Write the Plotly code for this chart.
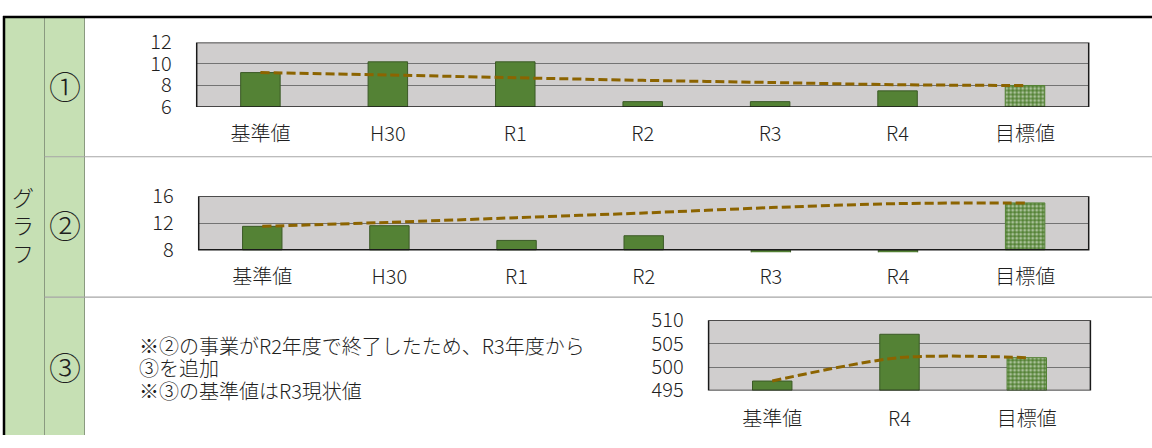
import plotly.graph_objects as go

# ---------------- data ----------------
cats1 = ["基準値", "H30", "R1", "R2", "R3", "R4", "目標値"]
values1 = [9.2, 10.2, 10.2, 6.5, 6.5, 7.5, 8.0]
trend1 = [9.2, 8.98, 8.72, 8.48, 8.28, 8.07, 8.0]
yticks1 = [6, 8, 10, 12]

cats2 = ["基準値", "H30", "R1", "R2", "R3", "R4", "目標値"]
values2 = [11.5, 11.6, 9.4, 10.1, 0, 0, 15.0]
trend2 = [11.5, 12.1, 12.8, 13.5, 14.3, 14.9, 15.0]
yticks2 = [8, 12, 16]

cats3 = ["基準値", "R4", "目標値"]
values3 = [497, 507, 502]
trend3 = [497, 502, 502]
yticks3 = [495, 500, 505, 510]

row_labels = ["①", "②", "③"]
side_label = "グラフ"
note_lines = ["※②の事業がR2年度で終了したため、R3年度から", "③を追加", "※③の基準値はR3現状値"]

# ---------------- style ----------------
W, H = 1152, 448
FONT = "Noto Sans CJK JP"
GREEN = "#548235"
BAR_LINE = "#3B5A26"
TREND = "#8C6400"
PLOT_BG = "#D0CECE"
GRID = "#737373"
TXT = "#1F1F1F"
CELL_GREEN = "#C6E0B4"
CELL_LINE = "#A6A6A6"


def px_x(p):
    return p / W


def px_y(p):
    return 1 - p / H


fig = go.Figure()

charts = [
    dict(cats=cats1, vals=values1, trend=trend1, ticks=yticks1, base=6, rng=[6, 12],
         xd=[196.7, 1088.7], yd=[28.3, 97.3], xs=13),
    dict(cats=cats2, vals=values2, trend=trend2, ticks=yticks2, base=8, rng=[7.62, 16],
         xd=[198.7, 1088.7], yd=[192.7, 252.7], xs=11),
    dict(cats=cats3, vals=values3, trend=trend3, ticks=yticks3, base=495, rng=[495, 510],
         xd=[708.6, 1090.4], yd=[325.3, 400.3], xs=15),
]

shapes = []
layout_axes = {}
for i, c in enumerate(charts, start=1):
    xa = "x" if i == 1 else f"x{i}"
    ya = "y" if i == 1 else f"y{i}"
    n = len(c["cats"])
    patterns = [""] * (n - 1) + ["."]
    colors = [GREEN] * n
    fig.add_trace(go.Bar(
        x=c["cats"], y=[v - c["base"] for v in c["vals"]], base=c["base"],
        xaxis=xa, yaxis=ya, width=0.31,
        marker=dict(color=colors,
                    line=dict(color=[BAR_LINE] * (n - 1) + [GREEN], width=1),
                    pattern=dict(shape=patterns, fgcolor="#FFFFFF", size=4,
                                 solidity=0.45, fillmode="overlay")),
        hoverinfo="skip", showlegend=False,
    ))
    fig.add_trace(go.Scatter(
        x=c["cats"], y=c["trend"], xaxis=xa, yaxis=ya, mode="lines",
        line=dict(color=TREND, width=3, dash="9px,4px", shape="spline", smoothing=0.8),
        hoverinfo="skip", showlegend=False,
    ))
    xkey = "xaxis" if i == 1 else f"xaxis{i}"
    ykey = "yaxis" if i == 1 else f"yaxis{i}"
    layout_axes[xkey] = dict(
        domain=[px_x(c["xd"][0]), px_x(c["xd"][1])], anchor=ya,
        type="category", categoryorder="array", categoryarray=c["cats"],
        showline=False, showgrid=False, zeroline=False, ticks="",
        ticklabelstandoff=c["xs"], tickfont=dict(family=FONT, size=20, color=TXT, weight=300),
        fixedrange=True,
    )
    layout_axes[ykey] = dict(
        domain=[px_y(c["yd"][1]), px_y(c["yd"][0])], anchor=xa,
        range=c["rng"], tickmode="array", tickvals=c["ticks"],
        showline=False, showgrid=True, gridcolor=GRID, gridwidth=1, zeroline=False,
        ticks="", ticklabelstandoff=24,
        tickfont=dict(family=FONT, size=20, color=TXT, weight=300), fixedrange=True,
    )
    # plot area background and frame
    shapes.append(dict(type="rect", xref=f"{xa} domain", yref=ya, x0=0, x1=1,
                       y0=c["ticks"][0], y1=c["ticks"][-1], fillcolor=PLOT_BG,
                       line=dict(width=0), layer="below"))
    shapes.append(dict(type="rect", xref=f"{xa} domain", yref=ya, x0=0, x1=1,
                       y0=c["ticks"][0], y1=c["ticks"][-1], fillcolor="rgba(0,0,0,0)",
                       line=dict(color="#1A1A1A", width=1.5), layer="above"))

# table cells
shapes.append(dict(type="rect", xref="paper", yref="paper", x0=px_x(3), x1=px_x(84.5),
                   y0=0, y1=1, fillcolor=CELL_GREEN, line=dict(width=0), layer="below"))
for xv in [44.5, 84.5]:
    shapes.append(dict(type="line", xref="paper", yref="paper", x0=px_x(xv), x1=px_x(xv),
                       y0=0, y1=px_y(1), line=dict(color="#8A9A80", width=1)))
for yv in [150.5, 300.5]:
    shapes.append(dict(type="line", xref="paper", yref="paper", x0=px_x(44.5), x1=1,
                       y0=px_y(yv), y1=px_y(yv), line=dict(color=CELL_LINE, width=1.2)))
shapes.append(dict(type="line", xref="paper", yref="paper", x0=px_x(4), x1=px_x(4),
                   y0=0, y1=1, line=dict(color="#000000", width=2.5)))
shapes.append(dict(type="line", xref="paper", yref="paper", x0=px_x(3), x1=1,
                   y0=px_y(1), y1=px_y(1), line=dict(color="#000000", width=2.5)))

annotations = []
for k, ch in enumerate(side_label):
    annotations.append(dict(text=ch, x=px_x(23), y=px_y(192 + 30 * k), xref="paper", yref="paper",
                            showarrow=False, xanchor="center", yanchor="middle",
                            font=dict(family=FONT, size=22, color=TXT, weight=300)))
for lbl, yv in zip(row_labels, [74, 222, 374]):
    annotations.append(dict(text=lbl, x=px_x(64.5), y=px_y(yv), xref="paper", yref="paper",
                            showarrow=False, xanchor="center", yanchor="middle",
                            font=dict(family=FONT, size=32, color=TXT, weight=300)))
for line, yv in zip(note_lines, [352, 376, 400]):
    annotations.append(dict(text=line, x=px_x(137), y=px_y(yv), xref="paper", yref="paper",
                            showarrow=False, xanchor="left", yanchor="middle",
                            font=dict(family=FONT, size=20, color=TXT, weight=300)))

fig.update_layout(
    width=W, height=H, margin=dict(l=0, r=0, t=0, b=0),
    paper_bgcolor="white", plot_bgcolor="rgba(0,0,0,0)",
    barmode="group", showlegend=False,
    shapes=shapes, annotations=annotations,
    font=dict(family=FONT, color=TXT),
    **layout_axes,
)

fig.write_html("out.html", config={"displayModeBar": False},
               post_script="document.body.style.margin='0px';document.body.style.overflow='hidden';")
